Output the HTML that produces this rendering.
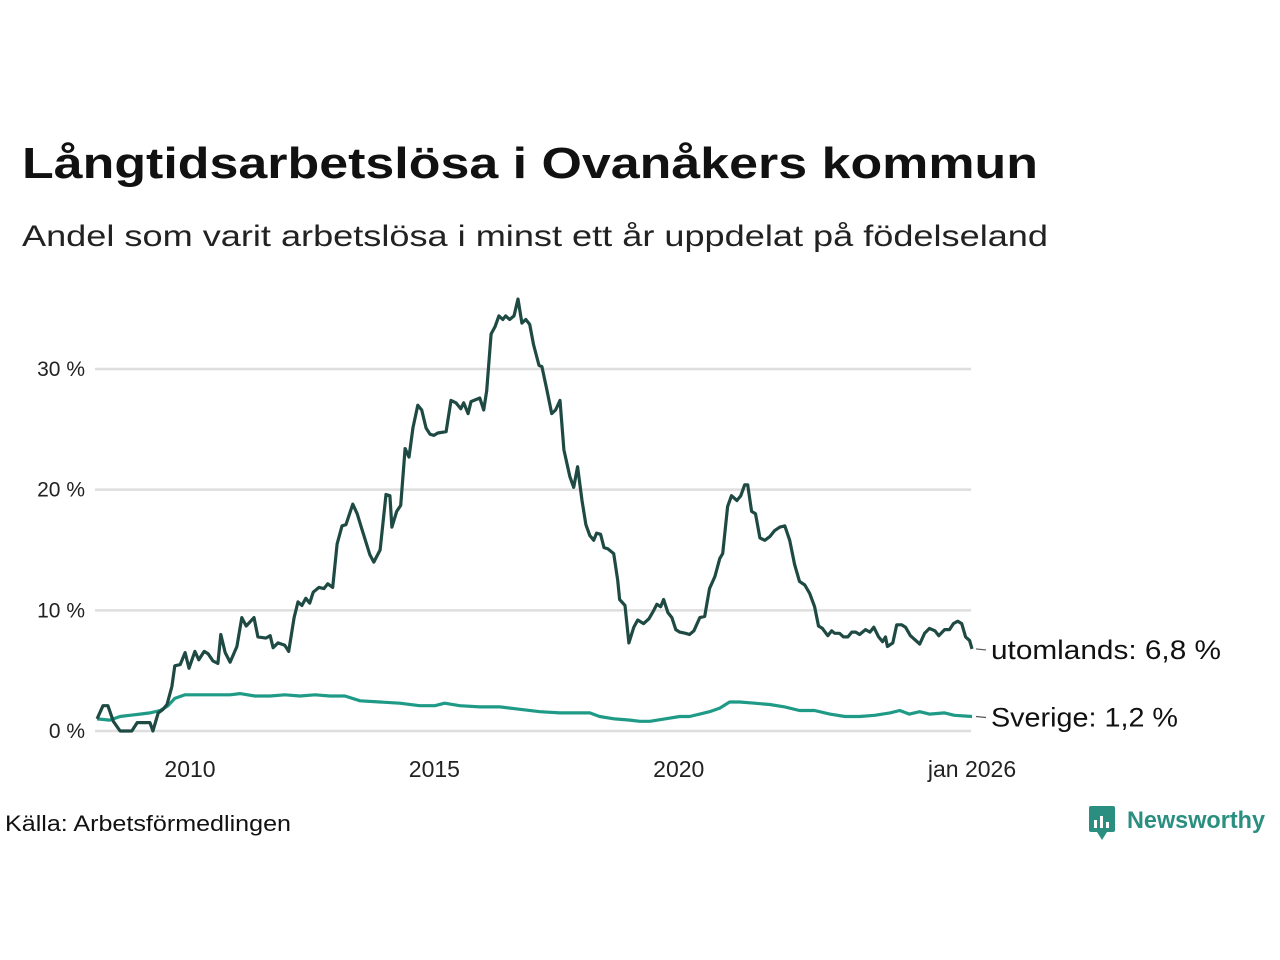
<!DOCTYPE html>
<html><head><meta charset="utf-8">
<style>
html,body{margin:0;padding:0;background:#fff;}
svg{display:block;font-family:"Liberation Sans","Noto Sans CJK SC",sans-serif;}
</style></head>
<body>
<svg id="chart" width="1280" height="960" viewBox="0 0 1280 960" xmlns="http://www.w3.org/2000/svg">
<text x="22" y="178" font-size="44" font-weight="bold" fill="#111" textLength="1016" lengthAdjust="spacingAndGlyphs">Långtidsarbetslösa i Ovanåkers kommun</text>
<text x="22" y="246" font-size="30" fill="#222" textLength="1026" lengthAdjust="spacingAndGlyphs">Andel som varit arbetslösa i minst ett år uppdelat på födelseland</text>
<g id="grid"></g>
<g id="yticks"></g>
<g id="xticks"></g>
<g id="lines"></g>
<g id="labels"></g>
<text x="5" y="831" font-size="22" fill="#111" textLength="286" lengthAdjust="spacingAndGlyphs">Källa: Arbetsförmedlingen</text>
<g>
<rect x="1089" y="806" width="26" height="26" rx="2" fill="#2a8f80"/>
<polygon points="1097,832 1107,832 1102,840" fill="#2a8f80"/>
<rect x="1094" y="820" width="3" height="8" fill="#fff"/>
<rect x="1100" y="816" width="3" height="12" fill="#fff"/>
<rect x="1106" y="822" width="3" height="6" fill="#fff"/>
<text x="1127" y="828" font-size="24" font-weight="bold" fill="#2a8f80" textLength="138" lengthAdjust="spacingAndGlyphs">Newsworthy</text>
</g>
</svg>
<script>
const yTicks=[0,10,20,30];
const yTickLabels=["0 %","10 %","20 %","30 %"];
const xTicks=[2010,2015,2020,2026];
const xTickLabels=["2010","2015","2020","jan 2026"];
const foreignYears=[2008.10,2008.22,2008.32,2008.43,2008.57,2008.81,2008.92,2009.18,2009.24,2009.35,2009.45,2009.53,2009.63,2009.69,2009.80,2009.90,2009.98,2010.10,2010.18,2010.29,2010.37,2010.47,2010.57,2010.63,2010.72,2010.82,2010.96,2011.06,2011.15,2011.31,2011.39,2011.55,2011.64,2011.70,2011.80,2011.94,2012.02,2012.13,2012.21,2012.29,2012.37,2012.45,2012.52,2012.64,2012.74,2012.82,2012.92,2013.01,2013.11,2013.19,2013.33,2013.42,2013.52,2013.68,2013.76,2013.89,2014.01,2014.09,2014.13,2014.23,2014.31,2014.40,2014.48,2014.56,2014.66,2014.74,2014.83,2014.91,2014.99,2015.07,2015.24,2015.34,2015.44,2015.54,2015.60,2015.69,2015.75,2015.93,2016.01,2016.07,2016.16,2016.24,2016.32,2016.40,2016.46,2016.54,2016.63,2016.71,2016.79,2016.87,2016.95,2017.03,2017.14,2017.20,2017.30,2017.40,2017.48,2017.57,2017.65,2017.77,2017.85,2017.93,2018.02,2018.10,2018.18,2018.26,2018.32,2018.40,2018.47,2018.55,2018.67,2018.75,2018.79,2018.90,2018.98,2019.08,2019.16,2019.28,2019.39,2019.49,2019.55,2019.63,2019.69,2019.78,2019.86,2019.94,2020.02,2020.14,2020.22,2020.31,2020.43,2020.53,2020.63,2020.74,2020.84,2020.90,2021.00,2021.08,2021.19,2021.27,2021.35,2021.41,2021.49,2021.57,2021.66,2021.76,2021.86,2021.96,2022.07,2022.17,2022.27,2022.37,2022.47,2022.58,2022.68,2022.78,2022.86,2022.94,2023.05,2023.13,2023.19,2023.29,2023.37,2023.46,2023.54,2023.62,2023.70,2023.82,2023.91,2023.99,2024.09,2024.17,2024.23,2024.27,2024.38,2024.46,2024.56,2024.64,2024.74,2024.85,2024.93,2025.03,2025.13,2025.24,2025.32,2025.44,2025.54,2025.62,2025.71,2025.79,2025.87,2025.95,2026.00];
const foreignValues=[1.0,2.1,2.1,0.8,0,0,0.7,0.7,0,1.5,1.8,2.2,3.7,5.4,5.5,6.5,5.2,6.6,5.9,6.6,6.4,5.8,5.6,8.0,6.5,5.7,7.0,9.4,8.7,9.4,7.8,7.7,7.9,6.9,7.3,7.1,6.6,9.4,10.7,10.4,11.0,10.6,11.5,11.9,11.8,12.2,11.9,15.5,17.0,17.1,18.8,18.0,16.7,14.6,14.0,15.0,19.6,19.5,16.9,18.2,18.7,23.4,22.7,25.1,27.0,26.6,25.1,24.6,24.5,24.7,24.8,27.4,27.2,26.7,27.2,26.3,27.3,27.6,26.6,28.2,32.9,33.5,34.4,34.1,34.4,34.1,34.4,35.8,33.8,34.1,33.7,32.0,30.3,30.2,28.3,26.3,26.6,27.4,23.3,21.1,20.2,21.9,19.1,17.1,16.2,15.8,16.4,16.3,15.2,15.1,14.7,12.5,10.9,10.4,7.3,8.6,9.2,8.9,9.3,10.0,10.5,10.3,10.9,9.8,9.4,8.4,8.2,8.1,8.0,8.3,9.4,9.5,11.8,12.8,14.3,14.7,18.6,19.5,19.1,19.5,20.4,20.4,18.2,18.0,16.0,15.8,16.1,16.6,16.9,17.0,15.8,13.8,12.4,12.1,11.4,10.3,8.7,8.5,7.9,8.3,8.1,8.1,7.8,7.8,8.2,8.2,8.0,8.4,8.2,8.6,7.8,7.4,7.8,7.0,7.3,8.8,8.8,8.6,7.9,7.5,7.2,8.1,8.5,8.3,7.9,8.4,8.4,8.9,9.1,8.9,7.8,7.5,6.8];
const swedenYears=[2008.10,2008.36,2008.57,2008.77,2008.98,2009.18,2009.39,2009.55,2009.69,2009.90,2010.20,2010.51,2010.82,2011.02,2011.33,2011.64,2011.94,2012.25,2012.56,2012.86,2013.17,2013.48,2013.89,2014.29,2014.70,2015.01,2015.21,2015.52,2015.93,2016.34,2016.75,2017.16,2017.57,2017.98,2018.18,2018.38,2018.69,2019.00,2019.20,2019.41,2019.71,2020.02,2020.22,2020.43,2020.63,2020.84,2021.04,2021.25,2021.55,2021.86,2022.17,2022.47,2022.78,2023.09,2023.40,2023.70,2024.01,2024.32,2024.52,2024.72,2024.93,2025.13,2025.44,2025.64,2026.00];
const swedenValues=[1.0,0.9,1.2,1.3,1.4,1.5,1.7,2.1,2.7,3.0,3.0,3.0,3.0,3.1,2.9,2.9,3.0,2.9,3.0,2.9,2.9,2.5,2.4,2.3,2.1,2.1,2.3,2.1,2.0,2.0,1.8,1.6,1.5,1.5,1.5,1.2,1.0,0.9,0.8,0.8,1.0,1.2,1.2,1.4,1.6,1.9,2.4,2.4,2.3,2.2,2.0,1.7,1.7,1.4,1.2,1.2,1.3,1.5,1.7,1.4,1.6,1.4,1.5,1.3,1.2];
const seriesNames=["utomlands: 6,8 %","Sverige: 1,2 %"];

const NS="http://www.w3.org/2000/svg";
const X0=95,X1=971;
function xScale(yr){return 190+(yr-2010)*(972-190)/16;}
function yScale(v){return 731-v*(731-369)/30;}
function mk(tag,attrs,parent){const e=document.createElementNS(NS,tag);for(const k in attrs)e.setAttribute(k,attrs[k]);parent.appendChild(e);return e;}
const grid=document.getElementById('grid'),yt=document.getElementById('yticks'),xt=document.getElementById('xticks'),lines=document.getElementById('lines'),labels=document.getElementById('labels');
yTicks.forEach((v,i)=>{
  const l=mk('line',{x1:X0,x2:X1,y1:yScale(v),y2:yScale(v),stroke:'#dedede','stroke-width':2.5},grid);
  
  
  const t=mk('text',{x:85,y:yScale(v)+7,'text-anchor':'end','font-size':21,fill:'#222'},yt);
  
  
  t.textContent=yTickLabels[i];
});
xTicks.forEach((v,i)=>{
  const t=mk('text',{x:xScale(v),y:777,'text-anchor':'middle','font-size':23,fill:'#222'},xt);
  
  
  t.textContent=xTickLabels[i];
});
function drawLine(xs,vs,color,name){
  const d=xs.map((x,i)=>(i?'L':'M')+xScale(x).toFixed(1)+','+yScale(vs[i]).toFixed(1)).join(' ');
  const p=mk('path',{d:d,fill:'none',stroke:color,'stroke-width':3.2,'stroke-linejoin':'round'},lines);
  
  
}
drawLine(swedenYears,swedenValues,'#1f9a86','line-sverige');
drawLine(foreignYears,foreignValues,'#1e4a43','line-utomlands');
const ends=[[foreignValues[foreignValues.length-1],'#1e4a43',230],[swedenValues[swedenValues.length-1],'#1f9a86',187]];
ends.forEach((e,i)=>{
  const y=yScale(e[0]);
  const l=mk('line',{x1:976,x2:986,y1:y,y2:y+1,stroke:'#555','stroke-width':1.2},labels);
  
  
  const t=mk('text',{x:991,y:y+10,'font-size':27,fill:'#111',textLength:e[2],lengthAdjust:'spacingAndGlyphs'},labels);
  
  
  t.textContent=seriesNames[i];
});
</script>
</body></html>
